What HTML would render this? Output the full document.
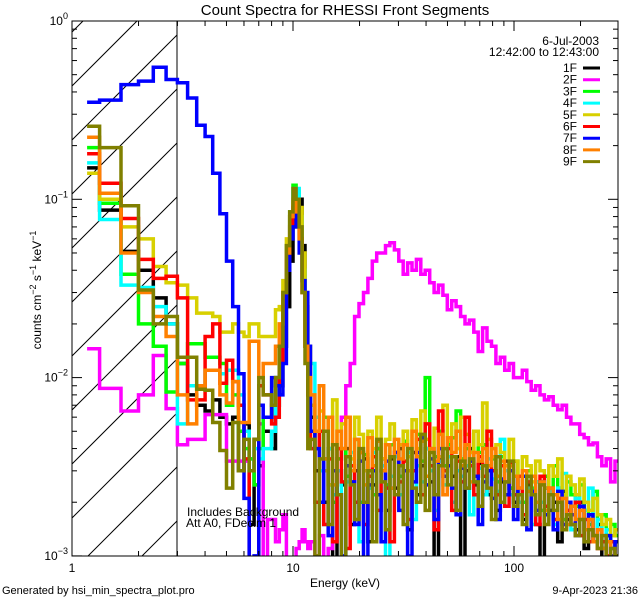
<!DOCTYPE html>
<html><head><meta charset="utf-8">
<style>
html,body{margin:0;padding:0;background:#fff;}
svg{display:block;font-family:"Liberation Sans",sans-serif;}
</style></head>
<body>
<svg id="chart" width="640" height="600" viewBox="0 0 640 600" xmlns="http://www.w3.org/2000/svg">
<defs><clipPath id="plotclip"><rect x="72" y="21" width="546" height="535"/></clipPath></defs>
<rect x="0" y="0" width="640" height="600" fill="#fff"/>
<text x="345" y="15" font-size="15" text-anchor="middle">Count Spectra for RHESSI Front Segments</text>
<g id="hatch" clip-path="url(#plotclip)"></g>
<line x1="177" y1="21" x2="177" y2="556" stroke="#000" stroke-width="1"/>
<g id="series" clip-path="url(#plotclip)"></g>
<g id="axes"></g>
<text x="187" y="516" font-size="12">Includes Background</text>
<text x="186" y="527" font-size="12">Att A0, FDecim 1</text>
<g>
<text x="599" y="45" font-size="12" text-anchor="end">6-Jul-2003</text>
<text x="599" y="56" font-size="12" text-anchor="end">12:42:00 to 12:43:00</text>
<g id="legend-entries"></g>
</g>
<text x="345" y="587" font-size="12" text-anchor="middle">Energy (keV)</text>
<text transform="translate(41,290) rotate(-90)" font-size="12" text-anchor="middle">counts cm<tspan dy="-5" font-size="9">−2</tspan><tspan dy="5"> s</tspan><tspan dy="-5" font-size="9">−1</tspan><tspan dy="5"> keV</tspan><tspan dy="-5" font-size="9">−1</tspan></text>
<text x="2" y="594" font-size="11">Generated by hsi_min_spectra_plot.pro</text>
<text x="638" y="594" font-size="11" text-anchor="end">9-Apr-2023 21:36</text>
</svg>
<script>
// Values in units of 1e-3 counts cm^-2 s^-1 keV^-1
var seriesNames = ["1F","2F","3F","4F","5F","6F","7F","8F","9F"];
var seriesColors = ["#000000","#ff00ff","#00ff00","#00ffff","#d8d000","#ff0000","#0000ff","#ff8000","#808000"];
var lowStart = 1.17;
var lowBinCount = 33;
var highStart = 12, highEnd = 300, highBinCount = 70;

var low1F = [150,87,51,40,28,20,12,8,7,6.5,7.5,6,5.5,6,3,5.5,1.5,4.5,3.2,5,5,4,7,9,15,25,45,70,95,100,55,25,10];
var low2F = [14.5,8.7,6.5,8,13.3,6.7,4.2,4.5,4.5,6.2,6.2,6.2,3.4,3.4,3.4,3.4,3.5,2.5,5.5,0.7,1.6,1.6,1.2,1.4,1.7,0.9,0.7,0.8,1.1,1.2,1.4,1.2,1.1];
var low3F = [195,95,38,20,15,8.3,12,15.5,15.5,13,13,12,7,8,5,4,3.5,2.5,4,6,6,7,10,15,30,55,85,120,110,70,35,15,8];
var low4F = [160,77,33,32,25,20,5.5,9,9,11,11,10.5,11,11,8,5,3,4,3.5,4,4,5,7,12,25,45,75,110,115,80,40,20,10];
var low5F = [140,100,70,60,42,34,33,28,23,23,22,18,18,20,18,17,20,20,17,17,17,17,24,25,35,60,80,95,100,90,50,26,15];
var low6F = [180,123,78,46,36,37,28,7.5,7.5,17,20,9.3,12.5,9.5,7,3.5,0.7,0.7,9,8,8,5.5,6,12,25,45,70,90,95,60,30,15,8];
var low7F = [350,360,440,460,550,470,450,370,260,225,140,83,45,25,10.5,2.1,0.8,1,7,6,6,10,9,8,12,40,60,70,100,50,35,30,15];
var low8F = [223,108,50,30,22,17,8,5.5,9,11,11,8,7.2,9.5,5.6,5.6,16,16,10,12,12,12,15,20,30,50,80,100,85,60,30,15,10];
var low9F = [257,195,92,31,20,22,13,13,8.6,8.5,5.6,3.9,2.4,5.6,3,4.5,3,4.5,10,8,8,7,10,15,30,55,85,115,100,70,30,12,4];

var high1F = [6,3,5,2,4,0.8,3,2.5,4,1.5,3,2,3.5,1.2,2.5,4,3,1.8,3.5,2.4,4,3,1.4,3.8,2.2,3.2,4,2.6,0.7,3.5,3,4.2,2.8,3.6,0.6,3,4,2.5,3.3,2.8,2.2,3,1.8,2.6,3.4,2.4,2,2.8,1.6,2.5,2.2,1.5,0.8,2.4,1.8,2,1.2,2.3,1.6,1.9,1.4,2,1.1,1.6,1.3,1.5,0.9,1.3,1.1,1.2];
var high2F = [1.2,1.0,1.3,0.8,1.1,2.0,3.5,6,9,12,22,26,30,36,45,50,50,55,57,52,45,38,44,40,46,38,40,34,30,33,29,24,27,25,22,20,21,18,14,19,16,15,12,13,11,12,10,10,11,9.5,8.5,9,8,7.5,7.8,7,6.6,7,6,5.5,5.5,4.8,4.6,4.2,4.3,3.6,3.2,3.5,2.6,3.4];
var high3F = [5,4,3,6,2.5,2,3.5,4,2.8,3,4.5,2,3.7,3,2.2,4,3.5,2.5,4.2,3.8,2.8,4.4,3.6,3,4.8,3.4,10,4,3.6,5,3.2,4.2,4.6,6.5,3.5,4,3.2,5,3.8,4.2,3,3.5,2.6,3.6,3,2.4,3.4,2.8,2,3,2.4,2.6,1.8,2.8,2.2,3.2,2.4,1.6,2.6,2.2,1.9,2.5,1.8,1.5,2.3,1.4,1.7,1.2,1.5,1.3];
var high4F = [12,6,3,1.5,4,2.2,3,1,2.6,3.8,2,1.2,3,2.4,3.8,1.8,3.2,0.9,2.8,3.6,2.2,3,3.8,1.6,3.2,2.6,4,3,1.8,3.4,2.5,3.6,2,3,2.8,3.2,1.7,2.6,3.1,2.2,3.5,2.7,2.3,4.5,3,2.2,2.8,2,3,2.4,1.5,2.6,2,1.8,2.3,1.5,2.4,2.9,1.8,1.4,2.1,1.6,1.8,2.4,1.3,1.6,1.2,1.4,1.1,1.2];
var high5F = [7,5,6.5,3,2.5,7.5,4,5.5,6,3.5,6,4.8,3,5,4,6,3.5,4.5,5.5,3.8,4.2,5,3.6,5.8,4,6.5,4.5,4,5.2,3.6,7,4.4,5.5,4,6,4.8,3.8,5,4.2,7.2,4.5,3.6,4.2,3.8,3.2,4.5,3.4,2.8,3.6,3.2,2.6,3.4,3,2.4,3.2,2.8,3.5,2.2,2.8,2.5,2.2,2.7,2,1.8,2.1,1.7,1.5,1.6,1.3,1.4];
var high6F = [4,2,5,1.5,3.5,1.2,4,2.6,1.1,3.2,2,3.8,1.5,2.8,3.6,1.8,3,2.4,1.2,3.8,2.6,3.4,1.6,3,4.5,2.2,5.5,3.2,1.4,6.5,3,4,1.8,3.4,2.6,6,3.2,2.2,3.6,2.8,5,3,2.2,3.2,1.9,3.3,2.2,2.8,1.7,2.6,2.2,1.5,2.8,1.9,2.4,1.6,2.1,1.4,1.8,1.5,2,1.3,1.6,1.2,1.3,1.1,1.2,1,1.2,1];
var high7F = [5,4,2,3.5,1.3,3,2.2,1,3.2,2.6,1.5,3.4,0.8,2.5,3,2.2,1.2,3.4,2.4,3.8,1.8,3,1,2.6,3.8,4.6,2.5,3.5,1.6,4,2.8,3.2,2.4,1.7,3.1,2.4,3.4,2.8,1.5,2.6,3,2.1,1.6,2.7,2.2,3,1.6,2.4,2.8,1.4,2.3,1.8,2.6,1.7,2.2,1.4,2.3,1.5,2,1.7,1.3,1.9,1.4,1.7,1.2,1.4,1.1,1.3,1,1.2];
var high8F = [8,5,9,3.5,6,2.5,5,4,6,3,4.5,3.8,2.5,4.6,3.2,4.4,3,4.2,2.4,4.5,3.5,4.2,3,5,3.6,4.4,2.8,4,3.4,4.8,2.2,4.6,3.8,5,3.2,4.2,2.6,3.8,3.4,4,3.2,4,2.8,3.4,2.6,3.2,2.8,2.4,3,2.3,2.8,2,2.6,1.8,2.4,2.2,1.6,2.1,1.5,1.9,1.6,1.8,1.4,1.6,1.2,1.4,1.1,1.2,0.9,1];
var high9F = [4.5,1,3.5,5,1.5,4.2,2.2,0.8,3.6,2.5,1.6,4,2,3,1.2,4.5,2.6,1.4,3.6,2.2,3.2,1.5,4,2.4,2,4.8,1.8,3.8,2.2,3.2,4,2.5,3.6,1.8,3.4,2.4,3.5,2.6,1.9,3.2,2.4,1.6,3.6,2,2.6,3.4,1.9,2.2,1.5,2.8,2.2,1.7,2.5,1.5,2.2,1.8,2,1.4,1.7,1.5,1.3,1.6,1.2,1.4,1.3,1.1,1.3,0.9,1.1,1];

var lowValues = [low1F,low2F,low3F,low4F,low5F,low6F,low7F,low8F,low9F];
var highValues = [high1F,high2F,high3F,high4F,high5F,high6F,high7F,high8F,high9F];

var yTickExps = ["0","−1","−2","−3"];
var xTickLabels = ["1","10","100"];

var NS = "http://www.w3.org/2000/svg";
var PL = 72, PR = 618, PT = 21, PB = 556;
var XDEC = 221, YDEC = 178.3;
function xs(e){ return PL + XDEC * Math.log10(e); }
function ys(v){ return PT - YDEC * Math.log10(Math.max(v, 1e-5)); }
function mk(tag, attrs, parent){
  var el = document.createElementNS(NS, tag);
  for (var k in attrs) el.setAttribute(k, attrs[k]);
  parent.appendChild(el);
  return el;
}

var edges = [lowStart];
for (var k = 1; k <= lowBinCount; k++) edges.push(1 + k/3);
var ratio = Math.pow(highEnd/highStart, 1/highBinCount);
for (var i = 1; i <= highBinCount; i++) edges.push(highStart * Math.pow(ratio, i));

var hatch = document.getElementById("hatch");
for (var h = -10; h < 12; h++) {
  var y0 = 86 + 54*(h - 1);
  var ln = mk("line", {x1: 72, y1: y0, x2: 177, y2: y0 - 105, stroke: "#000", "stroke-width": 1}, hatch);
  
  
}

var sg = document.getElementById("series");
for (var s = 0; s < seriesNames.length; s++) {
  var vals = lowValues[s].concat(highValues[s]);
  var d = "";
  for (var b = 0; b < vals.length; b++) {
    var v = vals[b] * 1e-3;
    var x1 = xs(edges[b]), x2 = xs(edges[b+1]), y = ys(v);
    d += (b === 0 ? "M" : "L") + x1.toFixed(1) + "," + y.toFixed(1) + "L" + x2.toFixed(1) + "," + y.toFixed(1);
  }
  var p = mk("path", {d: d, fill: "none", stroke: seriesColors[s], "stroke-width": 3.5, "stroke-linejoin": "miter"}, sg);
  
  
}

var ax = document.getElementById("axes");
var frame = mk("rect", {x: PL, y: PT, width: PR-PL, height: PB-PT, fill: "none", stroke: "#000", "stroke-width": 1}, ax);


for (var dec = 0; dec < 3; dec++) {
  for (var m = 1; m <= 9; m++) {
    var e = m * Math.pow(10, dec);
    var x = xs(e);
    if (x > PR) continue;
    var len = (m === 1) ? 10 : 5;
    var t1 = mk("line", {x1: x, y1: PB, x2: x, y2: PB - len, stroke: "#000"}, ax);
    
    
    var t2 = mk("line", {x1: x, y1: PT, x2: x, y2: PT + len, stroke: "#000"}, ax);
    
    
  }
  var lbl = mk("text", {x: xs(Math.pow(10, dec)), y: 572, "font-size": 12, "text-anchor": "middle"}, ax);
  lbl.textContent = xTickLabels[dec];
  
  
}
for (var yd = 0; yd < 4; yd++) {
  var base = Math.pow(10, -yd);
  for (var m2 = 1; m2 <= 9; m2++) {
    var v2 = base * m2;
    if (v2 > 1.0001 && m2 > 1) continue;
    var yy = ys(v2);
    if (yy < PT - 0.5) continue;
    var l2 = (m2 === 1) ? 10 : 5;
    var a1 = mk("line", {x1: PL, y1: yy, x2: PL + l2, y2: yy, stroke: "#000"}, ax);
    
    
    var a2 = mk("line", {x1: PR, y1: yy, x2: PR - l2, y2: yy, stroke: "#000"}, ax);
    
    
  }
  var yl = mk("text", {x: 68, y: ys(base) + 4, "font-size": 12, "text-anchor": "end"}, ax);
  
  
  var t0 = document.createElementNS(NS, "tspan"); t0.textContent = "10"; yl.appendChild(t0);
  var t3 = document.createElementNS(NS, "tspan"); t3.setAttribute("dy", "-6"); t3.setAttribute("font-size", "9"); t3.textContent = yTickExps[yd]; yl.appendChild(t3);
}

var lg = document.getElementById("legend-entries");
for (var q = 0; q < seriesNames.length; q++) {
  var ly = 68 + q * 11.7;
  var lt = mk("text", {x: 577, y: ly + 4, "font-size": 12, "text-anchor": "end"}, lg);
  lt.textContent = seriesNames[q];
  
  
  var ll = mk("line", {x1: 583, y1: ly, x2: 600, y2: ly, stroke: seriesColors[q], "stroke-width": 3}, lg);
  
  
}
</script>
</body></html>
